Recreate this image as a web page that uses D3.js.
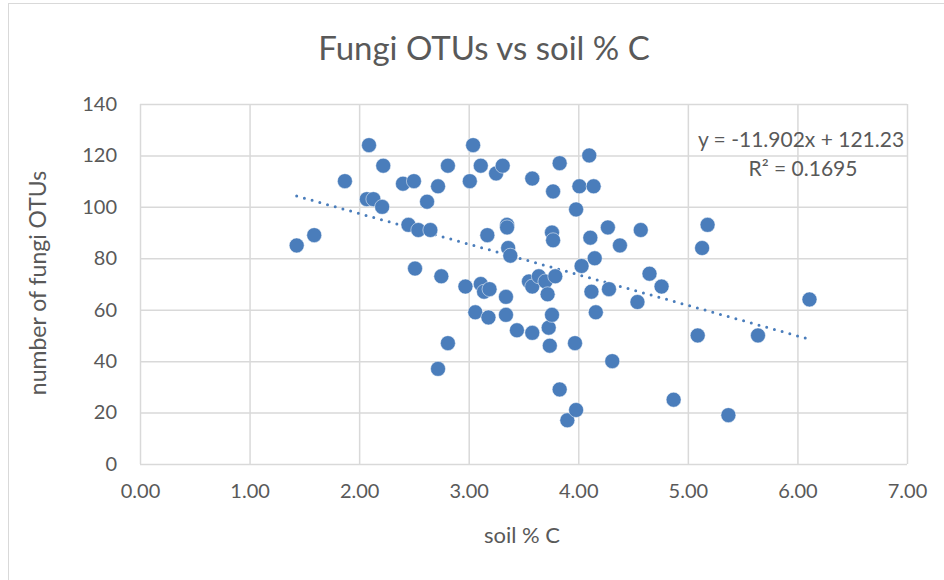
<!DOCTYPE html>
<html><head><meta charset="utf-8">
<script src="https://cdn.jsdelivr.net/npm/d3@7"></script>
<style>body{margin:0;background:#fff}svg{display:block}text{font-family:Lato,"Open Sans",sans-serif;fill:#595959}</style>
</head><body><svg id="c" width="944" height="580"></svg>
<script>
const soilC = [1.43,1.59,1.87,2.09,2.07,2.13,2.22,2.21,2.40,2.50,2.45,2.54,2.65,2.62,2.72,2.81,2.51,2.75,2.72,2.81,2.97,3.01,3.04,3.11,3.25,3.31,3.17,3.11,3.14,3.19,3.06,3.18,3.35,3.35,3.36,3.38,3.34,3.34,3.44,3.58,3.58,3.77,3.83,3.76,3.77,3.55,3.58,3.64,3.70,3.79,3.72,3.73,3.74,3.76,3.83,3.90,3.98,3.97,3.98,4.01,4.14,4.10,4.11,4.03,4.15,4.12,4.16,4.31,4.27,4.38,4.28,4.57,4.65,4.54,4.76,4.87,5.09,5.13,5.18,5.37,5.64,6.11];
const fungiOTUs = [85,89,110,124,103,103,116,100,109,110,93,91,91,102,108,116,76,73,37,47,69,110,124,116,113,116,89,70,67,68,59,57,93,92,84,81,65,58,52,51,111,106,117,90,87,71,69,73,71,73,66,53,46,58,29,17,21,47,99,108,108,120,88,77,80,67,59,40,92,85,68,91,74,63,69,25,50,84,93,19,50,64];
const xTicks = [0,1,2,3,4,5,6,7];
const yTicks = [0,20,40,60,80,100,120,140];
const trendSlope = -11.902, trendIntercept = 121.23;
const trendLabels = ["y = -11.902x + 121.23", "R\u00b2 = 0.1695"];
const title = "Fungi OTUs vs soil % C", xTitle = "soil % C", yTitle = "number of fungi OTUs";

const svg = d3.select("#c");
const grid = "#d9d9d9", blue = "#4a7dbb";
svg.append("rect").attr("x",8.5).attr("y",3.5).attr("width",1000).attr("height",1000).attr("fill","none").attr("stroke",grid);

const x = d3.scaleLinear().domain([0,7]).range([140,907]);
const y = d3.scaleLinear().domain([0,140]).range([464,104]);

const gx = svg.append("g").attr("transform","translate(0,464)")
  .call(d3.axisBottom(x).tickValues(xTicks).tickFormat(d3.format(".2f")).tickSize(-360).tickPadding(20));
const gy = svg.append("g").attr("transform","translate(140,0)")
  .call(d3.axisLeft(y).tickValues(yTicks).tickSize(-767).tickPadding(23));
[gx,gy].forEach(g=>{
  g.select(".domain").remove();
  g.selectAll("line").attr("stroke",grid).attr("stroke-width",1.5);
  g.selectAll("text").style("font-size","20px").attr("fill","#595959");
});
gx.selectAll("text").attr("dy","0.71em");

// trendline
const xmin = d3.min(soilC), xmax = d3.max(soilC);
svg.append("line")
  .attr("x1",x(xmin)).attr("y1",y(trendSlope*xmin+trendIntercept))
  .attr("x2",x(xmax)).attr("y2",y(trendSlope*xmax+trendIntercept))
  .attr("stroke",blue).attr("stroke-width",3).attr("stroke-linecap","round").attr("stroke-dasharray","0 8");

svg.append("g").selectAll("circle").data(soilC.map((v,i)=>[v,fungiOTUs[i]])).join("circle")
  .attr("cx",d=>x(d[0])).attr("cy",d=>y(d[1])).attr("r",7.5).attr("fill",blue).attr("stroke","#fff").attr("stroke-width",0.5);

svg.append("text").attr("x",484).attr("y",60).attr("text-anchor","middle").style("font-size","33px").text(title);
svg.append("text").attr("x",522).attr("y",543).attr("text-anchor","middle").style("font-size","22px").text(xTitle);
svg.append("text").attr("transform","translate(46,283) rotate(-90)").attr("text-anchor","middle").style("font-size","23px").text(yTitle);
svg.append("text").attr("x",801).attr("y",147).attr("text-anchor","middle").style("font-size","21px").text(trendLabels[0]);
svg.append("text").attr("x",803).attr("y",176).attr("text-anchor","middle").style("font-size","21px").text(trendLabels[1]);
</script></body></html>
